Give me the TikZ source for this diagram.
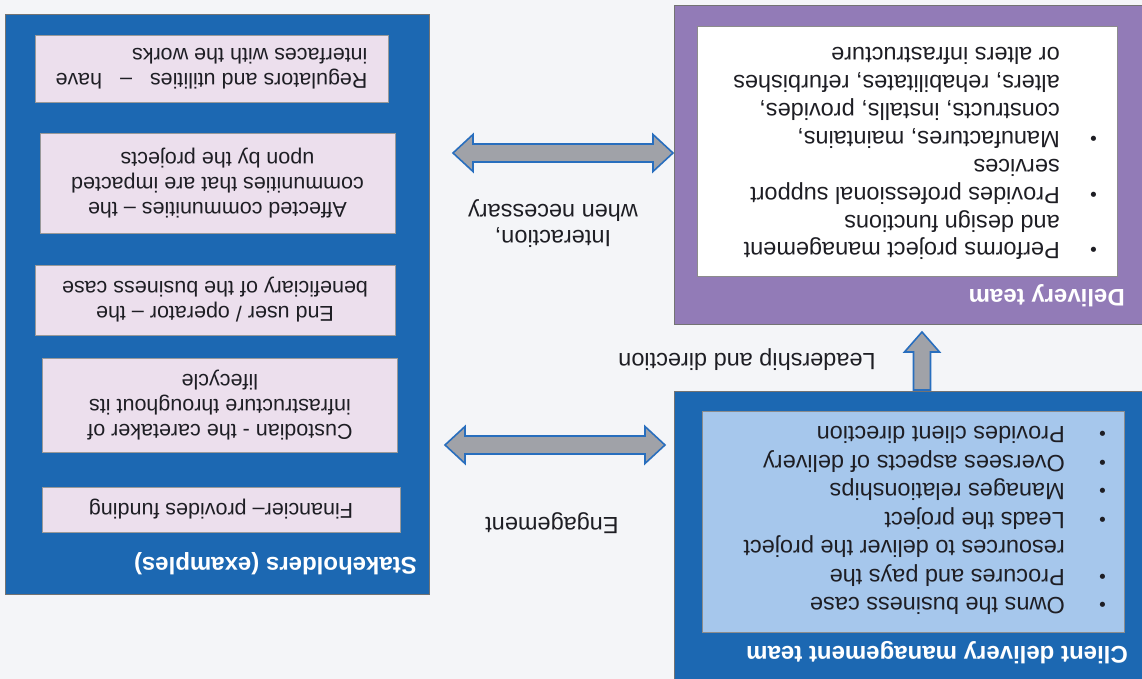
\documentclass[tikz,border=0pt]{standalone}
\usepackage{fontspec}
\setmainfont{Liberation Sans}
\usetikzlibrary{calc}
\definecolor{bgc}{RGB}{244,245,248}
\definecolor{cblue}{RGB}{28,104,178}
\definecolor{lblue}{RGB}{166,199,236}
\definecolor{purp}{RGB}{146,123,183}
\definecolor{pinkc}{RGB}{236,223,237}
\definecolor{agray}{RGB}{160,162,168}
\definecolor{ablue}{RGB}{40,110,190}
\definecolor{txtc}{RGB}{30,30,36}
\newcommand{\bulc}[1]{\makebox[#1][l]{\raisebox{1pt}{\fontsize{19}{19}\selectfont •}}}
\newcommand{\hdarrow}[2]{%
  \draw[fatarrow] (#1) -- ++(20,18.5) -- ++(0,-9.5) -- ($(#2)+(-20,9)$) -- ++(0,9.5) -- (#2)
   -- ++(-20,-18.5) -- ++(0,9.5) -- ($(#1)+(20,-9)$) -- ++(0,-9.5) -- cycle;}
\begin{document}
\begin{tikzpicture}[x=1pt,y=1pt,
  outerbox/.style={draw=black!55, line width=1pt, inner sep=0, anchor=north west},
  innerbox/.style={draw=black!45, line width=0.8pt, inner sep=0, anchor=north west},
  titletext/.style={text=white, inner sep=0, anchor=base west, font=\fontsize{24}{28}\selectfont\bfseries},
  bodytext/.style={text=txtc, inner sep=0, anchor=base west},
  pinkbox/.style={draw=black!40, line width=0.8pt, fill=pinkc, align=center, inner sep=0,
     text=txtc, font=\fontsize{21.5}{25}\selectfont},
  labeltext/.style={text=txtc, inner sep=0, align=center, font=\fontsize{23.5}{25.5}\selectfont},
  fatarrow/.style={fill=agray, draw=ablue, line width=1.6pt, line join=miter}]
\fill[bgc] (-1142,0) rectangle (0,679);
\begin{scope}[rotate=180, transform shape]
% Client delivery management team
\node[outerbox, fill=cblue, minimum width=472, minimum height=292] (client) at (-5,5) {};
\node[innerbox, fill=lblue, minimum width=422, minimum height=221] (clientin) at (17,-46) {};
\node[titletext] (clienttitle) at (14,-32) {Client delivery management team};
\node[bodytext, font=\fontsize{23.5}{28.5}\selectfont] (clienttext) at (36,-81) {%
\begin{tabular}[t]{@{}l@{}l@{}}
\bulc{41pt} & Owns the business case\\
\bulc{41pt} & Procures and pays the\\
 & resources to deliver the project\\
\bulc{41pt} & Leads the project\\
\bulc{41pt} & Manages relationships\\
\bulc{41pt} & Oversees aspects of delivery\\
\bulc{41pt} & Provides client direction
\end{tabular}};
% Delivery team
\node[outerbox, fill=purp, minimum width=472, minimum height=319] (deliv) at (-5,-354) {};
\node[innerbox, fill=white, minimum width=420, minimum height=250] (delivin) at (24,-402) {};
\node[titletext] (delivtitle) at (17,-389) {Delivery team};
\node[bodytext, font=\fontsize{23.5}{27.9}\selectfont] (delivtext) at (45,-436) {%
\begin{tabular}[t]{@{}l@{}l@{}}
\bulc{37pt} & Performs project management\\
 & and design functions\\
\bulc{37pt} & Provides professional support\\
 & services\\
\bulc{37pt} & Manufactures, maintains,\\
 & constructs, installs, provides,\\
 & alters, rehabilitates, refurbishes\\
 & or alters infrastructure
\end{tabular}};
% Stakeholders
\node[outerbox, fill=cblue, minimum width=424, minimum height=580] (stake) at (712,-84) {};
\node[titletext] (staketitle) at (725,-121) {Stakeholders (examples)};
\node[pinkbox, minimum width=358, minimum height=45] (fin) at (921,-169.5) {Financier– provides funding};
\node[pinkbox, minimum width=355, minimum height=94] (cust) at (922,-274) {Custodian - the caretaker of\\infrastructure throughout its\\lifecycle};
\node[pinkbox, minimum width=360, minimum height=70] (enduser) at (927,-379) {End user / operator – the\\beneficiary of the business case};
\node[pinkbox, minimum width=355, minimum height=100] (aff) at (924.5,-496) {Affected communities – the\\communities that are impacted\\upon by the projects};
\node[pinkbox, minimum width=353, minimum height=67, align=left] (reg) at (930.5,-610.5) {\makebox[312pt]{Regulators and utilities\hfill–\hfill have}\\\makebox[312pt][l]{interfaces with the works}};
% connectors
\coordinate (e1) at (477,-234);
\coordinate (e2) at (697,-234);
\coordinate (i1) at (469,-526);
\coordinate (i2) at (689,-526);
\coordinate (v1) at (220,-289);
\coordinate (v2) at (220,-347);
\hdarrow{e1}{e2}
\hdarrow{i1}{i2}
\draw[fatarrow] ($(v1)+(-8.5,0)$) -- ($(v2)+(-8.5,20)$) -- ++(-9,0) -- (v2) -- ($(v2)+(17.5,20)$)
   -- ++(-9,0) -- ($(v1)+(8.5,0)$) -- cycle;
\node[labeltext] (englabel) at (590,-156) {Engagement};
\node[labeltext] (leadlabel) at (395,-319) {Leadership and direction};
\node[labeltext] (intlabel) at (589,-455.5) {Interaction,\\when necessary};
\end{scope}
\pgfresetboundingbox
\useasboundingbox (-1142,0) rectangle (0,679);
\end{tikzpicture}
\end{document}
